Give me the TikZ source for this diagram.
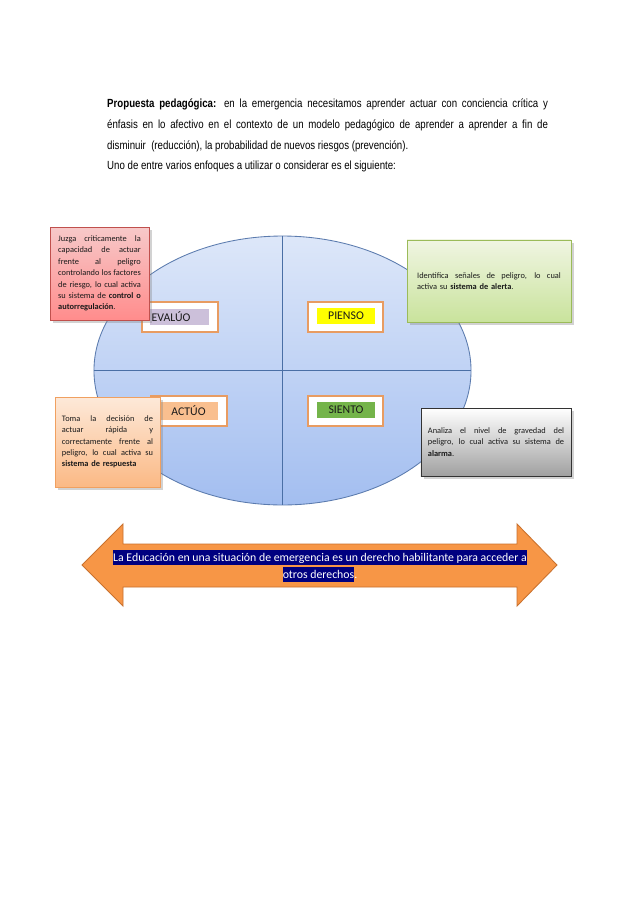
\documentclass[tikz,border=0pt]{standalone}
\usepackage{fontspec}
\setmainfont{Carlito}
\newfontfamily\narrowfont[FakeStretch=0.82]{Liberation Sans}
\usetikzlibrary{shadows,shapes.geometric}
\definecolor{elltop}{HTML}{DDE7F9}
\definecolor{ellbot}{HTML}{A3BEF0}
\definecolor{elldraw}{HTML}{5B7BAE}
\definecolor{axisc}{HTML}{4A6FA5}
\definecolor{lblorange}{HTML}{E89C62}
\definecolor{lav}{HTML}{CCC0DA}
\definecolor{yel}{HTML}{FFFF00}
\definecolor{peach}{HTML}{F9BF8F}
\definecolor{grn}{HTML}{74B44A}
\definecolor{redtop}{HTML}{F7C9C9}
\definecolor{redbot}{HTML}{FF8C8C}
\definecolor{reddraw}{HTML}{C0504D}
\definecolor{grtop}{HTML}{F0F5E2}
\definecolor{grbot}{HTML}{C9E39C}
\definecolor{grdraw}{HTML}{9BBB59}
\definecolor{ortop}{HTML}{FDE9D9}
\definecolor{orbot}{HTML}{FBB985}
\definecolor{ordraw}{HTML}{F0A060}
\definecolor{gytop}{HTML}{FFFFFF}
\definecolor{gybot}{HTML}{A0A0A0}
\definecolor{gydraw}{HTML}{333333}
\definecolor{arrfill}{HTML}{F79646}
\definecolor{arrdraw}{HTML}{C9712E}
\definecolor{navyhl}{HTML}{000080}
\definecolor{txt}{HTML}{1A1A1A}
\newcommand{\jline}[2]{{\spaceskip=0pt\xspaceskip=0pt\makebox[#1][s]{#2}}}
\newcommand{\hlbox}[1]{{\setlength{\fboxsep}{0pt}\colorbox{navyhl}{\rule[-3.4pt]{0pt}{13.4pt}#1}}}
\tikzset{
  lblbox/.style={draw=lblorange, line width=2.2pt, fill=white, inner sep=0pt,
    drop shadow={shadow xshift=1pt, shadow yshift=-1pt, opacity=0.25}},
  lblin/.style={inner sep=0pt, font=\fontsize{11}{12}\selectfont, text=txt},
  callout/.style={line width=0.7pt, inner sep=0pt, align=left, text=txt,
    font=\fontsize{7.8}{10.6}\selectfont,
    drop shadow={shadow xshift=2.5pt, shadow yshift=-2.5pt, opacity=0.35}},
  toptext/.style={anchor=base west, inner sep=0pt, font=\narrowfont\fontsize{11}{13}\selectfont}
}
\begin{document}
\begin{tikzpicture}[x=0.9325pt,y=-0.9325pt]
\fill[white] (0,0) rectangle (638,903);
\useasboundingbox (0,0) rectangle (638,903);

% top text
\node[toptext] (t1) at (107,107) {\makebox[411pt][s]{\textbf{Propuesta pedagógica:} en la emergencia necesitamos aprender actuar con conciencia crítica y}};
\node[toptext] (t2) at (107,128) {\makebox[411pt][s]{énfasis en lo afectivo en el contexto de un modelo pedagógico de aprender a aprender a fin de}};
\node[toptext] (t3) at (107,149) {disminuir \ (reducción), la probabilidad de nuevos riesgos (prevención).};
\node[toptext] (t4) at (107,169) {Uno de entre varios enfoques a utilizar o considerar es el siguiente:};

% ellipse
\node[ellipse, draw=elldraw, line width=0.8pt, top color=elltop, bottom color=ellbot,
  minimum width=351.6pt, minimum height=250.8pt, inner sep=0pt] (ell) at (282.5,370.5) {};
\draw[axisc, line width=0.7pt] (ell.north) -- (ell.south);
\draw[axisc, line width=0.7pt] (ell.west) -- (ell.east);

% label boxes
\node[lblbox, minimum width=70.9pt, minimum height=28pt] (evb) at (180,317) {};
\node[lblin, fill=lav, minimum width=55pt, minimum height=14.9pt, text width=52pt, align=left, inner xsep=1.5pt] (ev) at (179.5,317) {EVALÚO};
\node[lblbox, minimum width=70pt, minimum height=28pt] (pib) at (345.5,317) {};
\node[lblin, fill=yel, minimum width=54pt, minimum height=14.9pt] (pi) at (346,316) {PIENSO};
\node[lblbox, minimum width=70.9pt, minimum height=28pt] (acb) at (189,411) {};
\node[lblin, fill=peach, minimum width=55pt, minimum height=16pt] (ac) at (188.5,411) {ACTÚO};
\node[lblbox, minimum width=70pt, minimum height=28pt] (sib) at (345.5,411) {};
\node[lblin, fill=grn, minimum width=54pt, minimum height=14.9pt] (si) at (346,410) {SIENTO};

% callouts
\node[callout, draw=reddraw, top color=redtop, bottom color=redbot,
  minimum width=92.3pt, minimum height=86.7pt, text width=77pt] (juz) at (99.5,273.5)
  {\jline{77pt}{Juzga criticamente la}\\ \jline{77pt}{capacidad de actuar}\\ \jline{77pt}{frente al peligro}\\
   \jline{77pt}{controlando los factores}\\ \jline{77pt}{de riesgo, lo cual activa}\\
   \jline{77pt}{su sistema de \textbf{control o}}\\ \textbf{autorregulación}.};
\node[callout, draw=grdraw, top color=grtop, bottom color=grbot,
  minimum width=152.9pt, minimum height=76.5pt, text width=134pt] (ide) at (489,281)
  {\jline{134pt}{Identifica señales de peligro, lo cual}\\ activa su \textbf{sistema de alerta}.};
\node[callout, draw=ordraw, top color=ortop, bottom color=orbot,
  minimum width=97.9pt, minimum height=83.9pt, text width=85pt] (tom) at (107.5,442)
  {\jline{85pt}{Toma la decisión de}\\ \jline{85pt}{actuar rápida y}\\ \jline{85pt}{correctamente frente al}\\
   \jline{85pt}{peligro, lo cual activa su}\\ \textbf{sistema de respuesta}};
\node[callout, draw=gydraw, top color=gytop, bottom color=gybot,
  minimum width=139.9pt, minimum height=63.4pt, text width=127pt] (ana) at (496,442)
  {\jline{127pt}{Analiza el nivel de gravedad del}\\ \jline{127pt}{peligro, lo cual activa su sistema de}\\ \textbf{alarma}.};

% double arrow
\draw[fill=arrfill, draw=arrdraw, line width=0.8pt]
  (82,565) -- (123,524) -- (123,544) -- (517,544) -- (517,524) -- (557,565)
  -- (517,606) -- (517,587) -- (123,587) -- (123,606) -- cycle;
\node[align=center, text=white, inner sep=0pt, font=\fontsize{11}{15.8}\selectfont] (edu) at (320,566)
  {\hlbox{La Educación en una situación de emergencia es un derecho habilitante para acceder a}\\
   \hlbox{otros derechos}.};
\end{tikzpicture}
\end{document}
